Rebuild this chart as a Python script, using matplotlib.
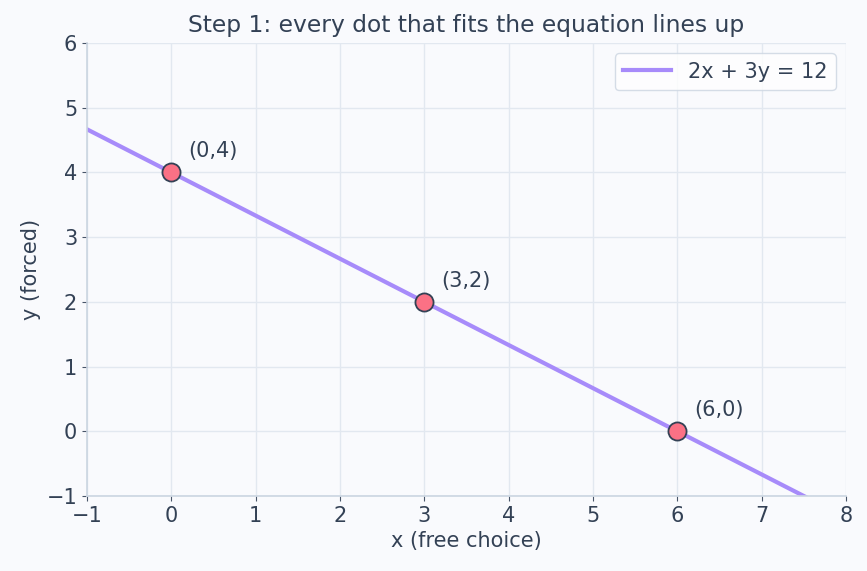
import matplotlib
matplotlib.use('Agg')
import matplotlib.pyplot as plt

# line 2x + 3y = 12, endpoints across the visible x range
line_x = [-1, 8]
line_y = [14 / 3, -4 / 3]

# points that satisfy the equation
pts_x = [0, 3, 6]
pts_y = [4, 2, 0]
pts_labels = ['(0,4)', '(3,2)', '(6,0)']

text_col = '#334155'
bg = '#f9fafd'

plt.rcParams['font.family'] = 'DejaVu Sans'

fig = plt.figure(figsize=(8.67, 5.71), dpi=100, facecolor=bg)
ax = fig.add_axes([0.1003, 0.1313, 0.8755, 0.7934])
ax.set_facecolor(bg)

ax.plot(line_x, line_y, color='#a78bfa', linewidth=3, label='2x + 3y = 12', zorder=2)
ax.scatter(pts_x, pts_y, s=170, color='#fb7185', edgecolors=text_col, linewidths=1.3, zorder=3)
for x, y, lab in zip(pts_x, pts_y, pts_labels):
    ax.annotate(lab, (x, y), xytext=(12, 8), textcoords='offset points',
                fontsize=15, color=text_col, va='bottom', ha='left')

ax.set_xlim(-1, 8)
ax.set_ylim(-1, 6)
ax.set_xticks(range(-1, 9))
ax.set_yticks(range(-1, 7))
ax.grid(True, color='#e2e8f0', linewidth=1)
ax.set_axisbelow(True)

for s in ['top', 'right']:
    ax.spines[s].set_visible(False)
for s in ['left', 'bottom']:
    ax.spines[s].set_color('#cbd5e1')
    ax.spines[s].set_linewidth(1.2)
ax.tick_params(colors=text_col, labelsize=15)
ax.tick_params(color='#475569')

ax.set_xlabel('x (free choice)', fontsize=15, color=text_col)
ax.set_ylabel('y (forced)', fontsize=15, color=text_col)
ax.set_title('Step 1: every dot that fits the equation lines up', fontsize=16.8, color=text_col, pad=8)

leg = ax.legend(loc='upper right', fontsize=15, frameon=True, fancybox=True, handlelength=2.3)
leg.get_frame().set_edgecolor('#cbd5e1')
leg.get_frame().set_facecolor('white')
for t in leg.get_texts():
    t.set_color(text_col)

fig.savefig('out.png', dpi=100, facecolor=bg)
